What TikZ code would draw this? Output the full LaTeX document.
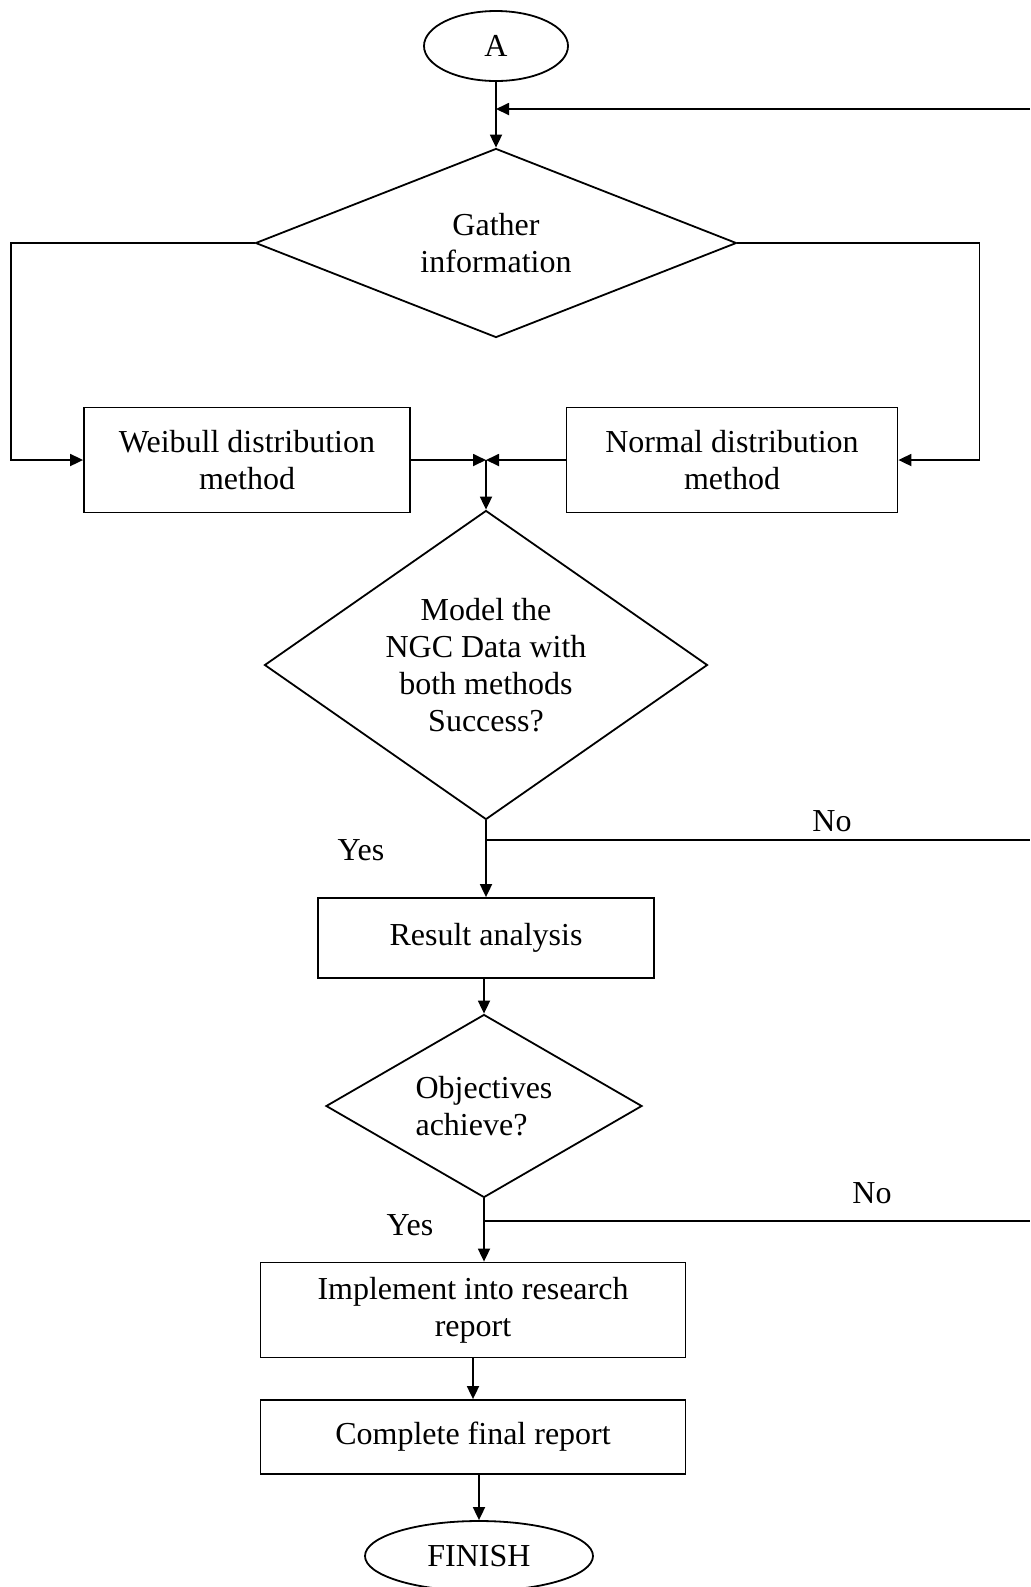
\documentclass[tikz,border=0pt]{standalone}
\usepackage{fontspec}
\setmainfont{Liberation Serif}
\usetikzlibrary{shapes.geometric,positioning,arrows.meta}

\newcommand{\flowfont}{\fontsize{16pt}{18.6pt}\selectfont}

\begin{document}
\begin{tikzpicture}[x=0.5pt, y=-0.5pt, line width=0.9pt, >={Triangle[length=6.5pt,width=6pt]}]
    \tikzset{
      every node/.style = { font = \flowfont },
      terminal/.style = { draw, ellipse, minimum width=72pt, minimum height=35pt, inner sep=0pt },
      decision/.style = { draw, diamond, inner sep=0pt, align=center },
      process/.style = { draw, rectangle, align=center, inner sep=0pt },
    }
    \useasboundingbox (0,0) rectangle (1030,1587);

    \node[terminal] (start A) at (496,46) {A};

    \node[decision, aspect=2.545, minimum width=240.5pt, minimum height=94.5pt] (gather info) at (496,243)
        {Gather\\information};

    \node[process, minimum width=163pt, minimum height=52.5pt] (weibull method) at (247,460)
        {Weibull distribution\\method};
    \node[process, minimum width=165.5pt, minimum height=52.5pt] (normal method) at (732,460)
        {Normal distribution\\method};
    \coordinate (merge) at (486,460);

    \node[decision, aspect=1.434, minimum width=221.5pt, minimum height=154.5pt] (model data) at (486,665)
        {Model the\\NGC Data with\\both methods\\Success?};

    \node[process, minimum width=168pt, minimum height=40pt] (result analysis) at (486,938)
        {Result analysis};

    \node[decision, aspect=1.727, minimum width=158pt, minimum height=91.5pt, align=left] (objectives) at (484,1106)
        {Objectives\\achieve?};

    \node[process, minimum width=212.5pt, minimum height=47.5pt] (implement report) at (473,1310)
        {Implement into research\\report};
    \node[process, minimum width=212.5pt, minimum height=37pt] (final report) at (473,1437)
        {Complete final report};

    \node[terminal, minimum width=114pt, minimum height=35pt] (finish) at (479,1556) {FINISH};

    % loop back to the top, coming from outside the page
    \coordinate (loop top) at (1030,109);
    \coordinate (no first) at (1030,840);
    \coordinate (no second) at (1030,1221);

    \draw[->] (start A) -- (gather info);
    \draw[->] (loop top) -- (loop top -| gather info.north);
    \draw[->] (gather info.west) -- ++(-244,0) |- (weibull method.west);
    \draw[->] (gather info.east) -- ++(242,0) |- (normal method.east);
    \draw[->] (weibull method.east) -- (merge);
    \draw[->] (normal method.west) -- (merge);
    \draw[->] (merge) -- (model data.north);

    \draw[->] (model data.south) -- (result analysis.north);
    \draw (model data.south |- no first) -- (no first);
    \node (yes first) at (361,850) {Yes};
    \node (no label first) at (832,821) {No};

    \draw[->] (result analysis.south -| objectives.north) -- (objectives.north);
    \draw[->] (objectives.south) -- (objectives.south |- implement report.north);
    \draw (objectives.south |- no second) -- (no second);
    \node (yes second) at (410,1225) {Yes};
    \node (no label second) at (872,1193) {No};

    \draw[->] (implement report) -- (final report);
    \draw[->] (final report.south -| finish.north) -- (finish.north);
\end{tikzpicture}
\end{document}
